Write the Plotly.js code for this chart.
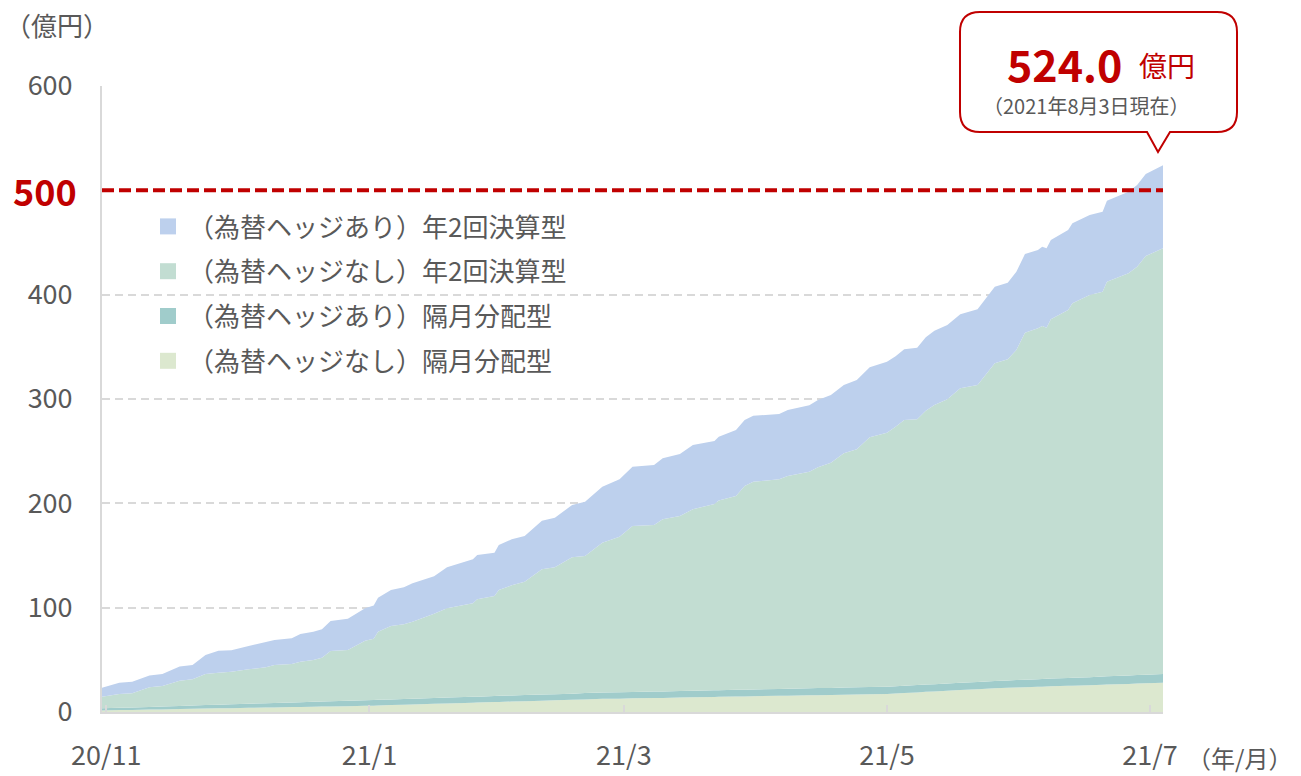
<!DOCTYPE html>
<html>
<head>
<meta charset="utf-8">
<script src="https://cdn.plot.ly/plotly-3.0.1.min.js"></script>
<style>html,body{margin:0;padding:0;background:#fff;}#chart{width:1301px;height:776px;}</style>
</head>
<body>
<div id="chart"></div>
<script>
// ---- data (億円) ----
const dates = [
 '2020-10-31','2020-11-04','2020-11-07','2020-11-11','2020-11-14','2020-11-18','2020-11-21','2020-11-24','2020-11-27','2020-11-30',
 '2020-12-04','2020-12-08','2020-12-10','2020-12-14','2020-12-16','2020-12-19','2020-12-21','2020-12-23','2020-12-27','2020-12-31',
 '2021-01-02','2021-01-03','2021-01-06','2021-01-09','2021-01-11','2021-01-16','2021-01-19','2021-01-25','2021-01-26','2021-01-30',
 '2021-01-31','2021-02-03','2021-02-06','2021-02-10','2021-02-13','2021-02-17','2021-02-20','2021-02-24','2021-02-28','2021-03-03',
 '2021-03-08','2021-03-10','2021-03-14','2021-03-17','2021-03-22','2021-03-23','2021-03-27','2021-03-29','2021-03-31','2021-04-06',
 '2021-04-08','2021-04-13','2021-04-15','2021-04-18','2021-04-21','2021-04-24','2021-04-27','2021-05-01','2021-05-03','2021-05-05',
 '2021-05-08','2021-05-10','2021-05-12','2021-05-15','2021-05-18','2021-05-22','2021-05-26','2021-05-29','2021-05-31','2021-06-02',
 '2021-06-05','2021-06-06','2021-06-07','2021-06-08','2021-06-12','2021-06-13','2021-06-17','2021-06-20','2021-06-21','2021-06-26',
 '2021-06-28','2021-06-30','2021-07-04'];

// (為替ヘッジなし) 隔月分配型
const nashiBimonthly = [
 1.5,1.8,2.0,2.3,2.5,2.8,3.0,3.3,3.5,3.7,
 4.0,4.3,4.4,4.7,4.8,5.0,5.2,5.3,5.6,5.9,
 6.1,6.3,6.6,6.9,7.1,7.8,8.2,8.9,9.0,9.5,
 9.7,10.0,10.4,10.9,11.2,11.7,12.1,12.6,12.8,13.1,
 13.4,13.5,13.8,14.1,14.4,14.5,14.8,14.9,15.1,15.5,
 15.6,16.0,16.1,16.3,16.6,16.8,17.0,17.3,17.8,18.2,
 18.8,19.3,19.7,20.4,21.0,21.8,22.7,23.2,23.5,23.8,
 24.2,24.3,24.4,24.6,25.1,25.2,25.7,26.1,26.3,26.9,
 27.2,27.5,28.0];

// (為替ヘッジあり) 隔月分配型
const ariBimonthly = [
 2.0,2.2,2.4,2.6,2.8,3.0,3.2,3.4,3.5,3.7,
 3.9,4.2,4.2,4.5,4.6,4.8,4.9,5.0,5.2,5.4,
 5.5,5.5,5.5,5.6,5.6,5.6,5.7,5.7,5.7,5.8,
 5.8,5.8,5.8,5.9,5.9,5.9,6.0,6.0,6.1,6.1,
 6.2,6.2,6.3,6.3,6.4,6.4,6.5,6.5,6.5,6.6,
 6.6,6.7,6.8,6.8,6.8,6.9,6.9,7.0,7.0,7.0,
 7.0,7.0,7.0,7.0,7.0,7.0,7.0,7.1,7.1,7.2,
 7.3,7.4,7.4,7.4,7.6,7.6,7.7,7.9,7.9,8.1,
 8.2,8.3,8.4];

// (為替ヘッジなし) 年2回決算型
const nashiSemiannual = [
 11.2,13.3,13.5,18.8,19.7,24.2,25.1,29.7,30.5,31.2,
 33.0,34.3,36.4,36.8,38.8,40.0,41.9,48.2,48.6,57.0,
 58.7,65.2,70.3,71.5,73.9,80.8,85.5,89.6,93.3,95.9,
 101.5,105.6,108.7,120.0,121.6,130.7,131.4,143.7,149.1,159.1,
 159.6,165.0,167.8,173.9,178.6,181.7,185.7,195.2,199.1,200.9,
 204.0,207.6,211.6,215.9,224.6,228.1,239.4,243.4,248.7,254.7,
 254.8,262.5,267.6,272.3,282.2,284.6,304.5,307.7,316.4,332.6,
 336.3,338.3,336.6,344.4,352.6,358.9,366.3,368.8,378.2,385.5,
 391.4,401.2,408.0];

// (為替ヘッジあり) 年2回決算型
const ariSemiannual = [
 8.6,10.7,11.1,11.3,11.4,13.5,13.7,18.2,21.3,20.5,
 22.4,24.2,24.0,24.6,26.6,27.2,27.2,28.7,30.0,31.1,
 31.7,32.5,34.6,35.5,36.7,35.8,39.3,42.1,42.5,41.5,
 43.0,44.1,43.8,46.6,47.5,50.1,52.1,53.7,55.0,56.7,
 57.5,58.5,59.4,61.7,60.3,61.3,63.3,63.3,63.3,62.6,
 63.3,63.7,64.5,64.8,65.4,66.4,67.1,68.1,67.5,67.7,
 68.6,70.4,71.2,71.3,71.0,72.6,73.5,73.5,75.0,75.4,
 75.0,76.0,76.0,76.0,76.7,76.7,76.7,76.7,77.6,78.2,
 78.3,78.7,79.6];

const seriesNames = ['（為替ヘッジあり）年2回決算型','（為替ヘッジなし）年2回決算型','（為替ヘッジあり）隔月分配型','（為替ヘッジなし）隔月分配型'];
const xTickVals = ['2020-11-01','2021-01-01','2021-03-01','2021-05-01','2021-07-01'];
const xTickText = ['20/11','21/1','21/3','21/5','21/7'];
const yTickVals = [0,100,200,300,400,600];
const targetLine = 500;
const totalLabel = '524.0';
const asOfLabel = '（2021年8月3日現在）';

// ---- styling ----
const colors = {ariS:'#bdd0ed', nashiS:'#c2ddd2', ariB:'#a0cccb', nashiB:'#dce8cf'};
const FONT = '"Noto Sans CJK JP", "Noto Sans", sans-serif';
const GRAY = '#595959';
const RED = '#c00000';

const ML = 102, MR = 138, MT = 86, MB = 64, W = 1301, H = 776;
const PW = W - ML - MR, PH = H - MT - MB;
const px = X => (X - ML) / PW;
const py = Y => (H - MB - Y) / PH;

function area(y, name, color) {
  return {x: dates, y: y, name: name, type: 'scatter', mode: 'none', stackgroup: 'one',
          fillcolor: color, line: {width: 0}, showlegend: false, hoverinfo: 'x+y+name'};
}
function legendItem(name, color, grp) {
  return {x: [null], y: [null], name: name, type: 'scatter', mode: 'markers', legendgroup: grp,
          marker: {symbol: 'square', size: 17, color: color}, showlegend: true, hoverinfo: 'skip'};
}

const traces = [
  area(nashiBimonthly, seriesNames[3], colors.nashiB),
  area(ariBimonthly, seriesNames[2], colors.ariB),
  area(nashiSemiannual, seriesNames[1], colors.nashiS),
  area(ariSemiannual, seriesNames[0], colors.ariS),
  legendItem(seriesNames[0], colors.ariS, 'g1'),
  legendItem(seriesNames[1], colors.nashiS, 'g2'),
  legendItem(seriesNames[2], colors.ariB, 'g3'),
  legendItem(seriesNames[3], colors.nashiB, 'g4')
];

// callout path (pixel -> paper)
const bx0 = 960, bx1 = 1237, by0 = 12, by1 = 132, r = 20;
function P(X, Y) { return px(X).toFixed(5) + ',' + py(Y).toFixed(5); }
const calloutPath =
  'M' + P(bx0 + r, by0) + ' L' + P(bx1 - r, by0) + ' Q' + P(bx1, by0) + ' ' + P(bx1, by0 + r) +
  ' L' + P(bx1, by1 - r) + ' Q' + P(bx1, by1) + ' ' + P(bx1 - r, by1) +
  ' L' + P(1170, by1) + ' L' + P(1158, 152) + ' L' + P(1147, by1) +
  ' L' + P(bx0 + r, by1) + ' Q' + P(bx0, by1) + ' ' + P(bx0, by1 - r) +
  ' L' + P(bx0, by0 + r) + ' Q' + P(bx0, by0) + ' ' + P(bx0 + r, by0) + ' Z';

const layout = {
  width: W, height: H,
  margin: {l: ML, r: MR, t: MT, b: MB, pad: 0},
  paper_bgcolor: '#ffffff', plot_bgcolor: '#ffffff',
  font: {family: FONT, size: 26, color: GRAY},
  showlegend: true,
  legend: {x: px(148), y: py(203), xanchor: 'left', yanchor: 'top', bgcolor: 'rgba(0,0,0,0)',
           font: {family: FONT, size: 26, color: GRAY}, traceorder: 'grouped', tracegroupgap: 8},
  xaxis: {type: 'date', range: ['2020-10-31', '2021-07-04'], tickvals: xTickVals, ticktext: xTickText,
          showgrid: false, zeroline: false, showline: true, linecolor: '#d9d9d9', linewidth: 2,
          ticks: 'inside', ticklen: 7, tickwidth: 2, tickcolor: '#d9d9d9',
          tickfont: {family: FONT, size: 27, color: GRAY}, ticklabelstandoff: 19, fixedrange: true},
  yaxis: {range: [0, 600], tickvals: yTickVals, showgrid: true, gridcolor: '#d9d9d9', gridwidth: 2,
          griddash: '8px,5px', zeroline: false, showline: true, linecolor: '#d9d9d9', linewidth: 2,
          ticks: '', tickfont: {family: FONT, size: 27, color: GRAY}, ticklabelstandoff: 22, fixedrange: true},
  shapes: [
    {type: 'line', xref: 'paper', yref: 'y', x0: 0, x1: 1, y0: targetLine, y1: targetLine,
     line: {color: RED, width: 4, dash: '12px,5px'}, layer: 'above'},
    {type: 'path', xref: 'paper', yref: 'paper', path: calloutPath, fillcolor: '#ffffff',
     line: {color: RED, width: 2}, layer: 'above'}
  ],
  annotations: [
    {xref: 'paper', yref: 'y', x: px(79), y: targetLine, xanchor: 'right', yanchor: 'middle',
     text: '<b>' + targetLine + '</b>', showarrow: false, font: {family: FONT, size: 36, color: RED}},
    {xref: 'paper', yref: 'paper', x: px(3), y: py(25), xanchor: 'left', yanchor: 'middle',
     text: '（億円）', showarrow: false, font: {family: FONT, size: 26, color: GRAY}},
    {xref: 'paper', yref: 'paper', x: px(1185), y: py(757), xanchor: 'left', yanchor: 'middle',
     text: '（年/月）', showarrow: false, font: {family: FONT, size: 24, color: GRAY}},
    {xref: 'paper', yref: 'paper', x: px(1064), y: py(63), xanchor: 'center', yanchor: 'middle',
     text: '<b>' + totalLabel + '</b>', showarrow: false, font: {family: FONT, size: 43, color: RED}},
    {xref: 'paper', yref: 'paper', x: px(1167), y: py(65), xanchor: 'center', yanchor: 'middle',
     text: '億円', showarrow: false, font: {family: FONT, size: 28, color: RED}},
    {xref: 'paper', yref: 'paper', x: px(1086), y: py(106), xanchor: 'center', yanchor: 'middle',
     text: asOfLabel, showarrow: false, font: {family: FONT, size: 20, color: GRAY}}
  ]
};

Plotly.newPlot('chart', traces, layout, {displayModeBar: false, staticPlot: true});
</script>
</body>
</html>
